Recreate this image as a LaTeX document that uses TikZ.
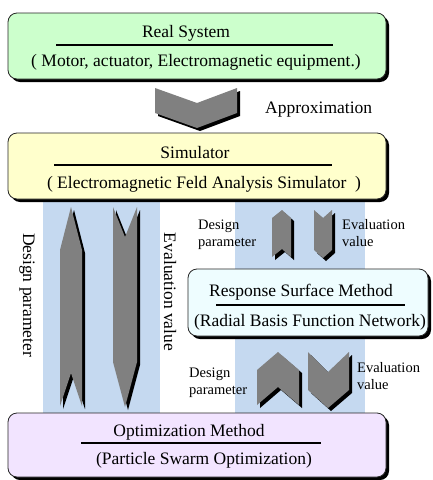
\documentclass[tikz,border=0pt]{standalone}
\usepackage{fontspec}
\setmainfont{Liberation Serif}
\newfontfamily\serifface{Liberation Serif}
\usetikzlibrary{shadows}

\definecolor{realgreen}{RGB}{204,255,204}
\definecolor{simyellow}{RGB}{255,255,204}
\definecolor{rsmcyan}{RGB}{238,253,255}
\definecolor{optlilac}{RGB}{242,228,255}
\definecolor{stripblue}{RGB}{197,217,240}
\definecolor{arrowgray}{RGB}{128,128,128}

\tikzset{
  block/.style={draw=black!85, line width=0.8pt, rounded corners=9pt, inner sep=0pt,
    drop shadow={shadow xshift=3pt, shadow yshift=-3pt, fill=black, opacity=1}},
  big/.style={font=\serifface\fontsize{17.5}{21}\selectfont, inner sep=0pt},
  small/.style={font=\serifface\fontsize{14.5}{17}\selectfont, align=left, inner sep=0pt, anchor=west},
  fat/.style={fill=arrowgray},
  fatshadow/.style={fill=black, shift={(3,3)}},
  rule/.style={line width=1.2pt},
}

% gray block arrow with a black shadow behind it
\newcommand{\fatarrow}[1]{\fill[fatshadow] #1; \fill[fat] #1;}

\begin{document}
\begin{tikzpicture}[x=1pt, y=-1pt]
  \useasboundingbox (0,0) rectangle (432,480);

  % blue bands behind the arrows
  \fill[stripblue] (43,200) rectangle (160,413);
  \fill[stripblue] (235,200) rectangle (365,413);

  % boxes
  \node[block, fill=realgreen, minimum width=378pt, minimum height=66pt] (real) at (197,46) {};
  \node[block, fill=simyellow, minimum width=378pt, minimum height=66pt] (sim) at (197,166) {};
  \node[block, fill=rsmcyan, minimum width=240pt, minimum height=67pt] (rsm) at (308,302.5) {};
  \node[block, fill=optlilac, minimum width=378pt, minimum height=64pt] (opt) at (197,445) {};

  \node[big] (real-title) at (186,33) {Real System};
  \draw[rule] (56,45) -- (333,45);
  \node[big] (real-sub) at (196,62) {( Motor, actuator, Electromagnetic equipment.)};

  \node[big] (sim-title) at (195,153) {Simulator};
  \draw[rule] (54,165) -- (332,165);
  \node[big] (sim-sub) at (204,184) {( Electromagnetic Feld Analysis Simulator~~)};

  \node[big] (rsm-title) at (301,292) {Response Surface Method};
  \draw[rule] (216,305) -- (405,305);
  \node[big] (rsm-sub) at (310,322) {(Radial Basis Function Network)};

  \node[big] (opt-title) at (189,432) {Optimization Method};
  \draw[rule] (81,443) -- (321,443);
  \node[big] (opt-sub) at (204,460) {(Particle Swarm Optimization)};

  % approximation
  \fatarrow{(155,88) -- (197,103) -- (237,88) -- (237,113) -- (197,128) -- (155,113) -- cycle}
  \node[big, anchor=west] (approx) at (265,110) {Approximation};

  % simulator <-> optimization
  \fatarrow{(71,207) -- (82,250) -- (82,406) -- (71,373) -- (60,406) -- (60,250) -- cycle}
  \fatarrow{(113,207) -- (125,237) -- (137,207) -- (137,362) -- (125,407) -- (113,362) -- cycle}
  \node[big, rotate=-90] (dp-long) at (27,295) {Design parameter};
  \node[big, rotate=-90] (ev-long) at (170,292) {Evaluation value};

  % simulator <-> response surface
  \fatarrow{(282,210) -- (291,218) -- (291,257) -- (282,249) -- (272,257) -- (272,218) -- cycle}
  \fatarrow{(314,210) -- (323,218) -- (332,210) -- (332,250) -- (323,258) -- (314,250) -- cycle}
  \node[small] (dp-top) at (198,235) {Design\\parameter};
  \node[small] (ev-top) at (342,233.5) {Evaluation\\value};

  % response surface <-> optimization
  \fatarrow{(278,352) -- (299,370) -- (299,405) -- (278,387) -- (257,405) -- (257,370) -- cycle}
  \fatarrow{(308,352) -- (328,372) -- (349,352) -- (349,390) -- (328,408) -- (308,390) -- cycle}
  \node[small] (dp-low) at (189,382.5) {Design\\parameter};
  \node[small] (ev-low) at (357,376.5) {Evaluation\\value};
\end{tikzpicture}
\end{document}
